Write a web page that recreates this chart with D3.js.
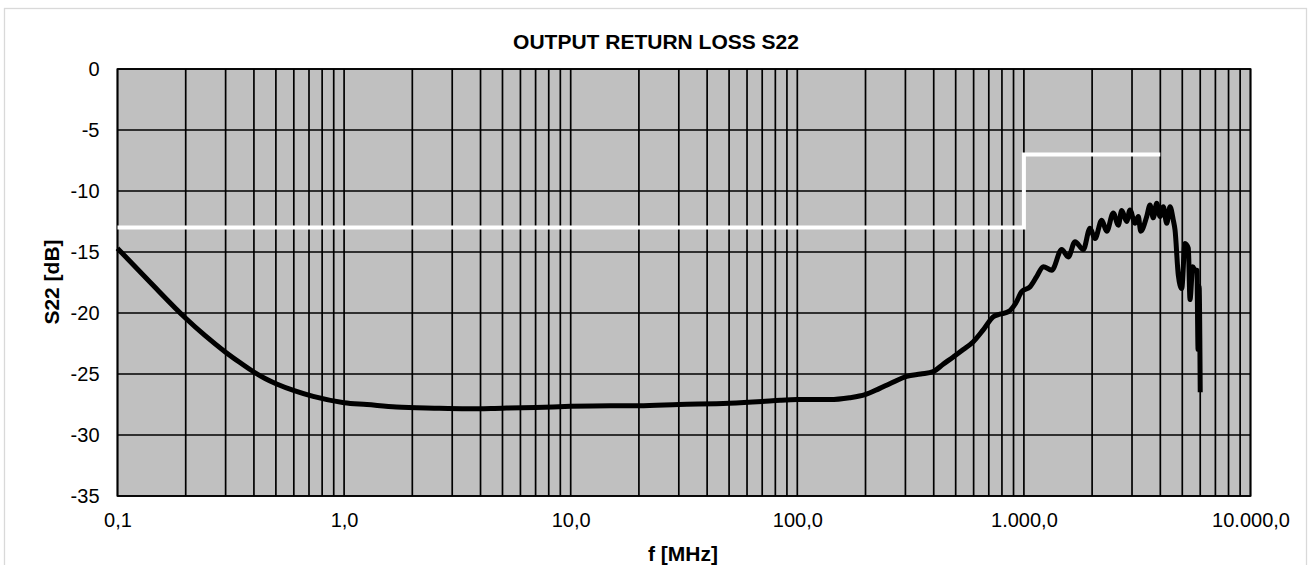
<!DOCTYPE html>
<html>
<head>
<meta charset="utf-8">
<script src="https://cdn.jsdelivr.net/npm/d3@7"></script>
<style>
  body { margin: 0; background: #fff; }
  svg { display: block; font-family: "Liberation Sans", Arial, sans-serif; }
</style>
</head>
<body>
<svg id="chart" width="1311" height="565"></svg>
<script>
// measured S22 curve, frequency in MHz
const freq = [
  0.1, 0.139, 0.2, 0.243, 0.298, 0.347, 0.4, 0.448, 0.504, 0.607, 0.73, 1.0, 1.26, 1.7, 2.5, 3.5, 5, 7,
  10, 15, 20, 30, 50, 70, 84, 100, 139, 170, 199, 230, 256, 304, 350, 398, 440,
  488, 540, 598, 660, 733, 784, 853, 920, 978, 1065, 1140, 1218, 1327, 1468, 1570,
  1681, 1829, 1958, 2060, 2205, 2320, 2480, 2610, 2702, 2842, 2939, 3093, 3198,
  3278, 3483, 3601, 3725, 3856, 3987, 4124, 4269, 4415, 4565, 4645, 4802, 4970,
  5140, 5316, 5408, 5560, 5700, 5800, 5870, 5930, 6000
];
const s22 = [
  -14.7, -17.46, -20.43, -21.84, -23.17, -24.06, -24.84, -25.37, -25.82, -26.39, -26.84, -27.35, -27.5, -27.7, -27.8, -27.85, -27.8, -27.75,
  -27.65, -27.6, -27.6, -27.5, -27.4, -27.25, -27.15, -27.1, -27.1, -26.95, -26.7, -26.2, -25.8, -25.2, -25.0, -24.8, -24.2,
  -23.6, -23.0, -22.35, -21.4, -20.3, -20.1, -19.9, -19.2, -18.25, -17.85, -17.0, -16.2, -16.5, -14.8, -15.4,
  -14.15, -14.8, -13.05, -13.9, -12.4, -13.3, -11.8, -12.8, -11.6, -12.5, -11.55, -12.65, -12.1,
  -13.3, -12.1, -11.15, -12.2, -11.0, -12.1, -11.3, -12.65, -11.3, -12.4, -13.2, -16.9, -18.0,
  -14.3, -14.7, -18.9, -16.2, -16.5, -16.5, -23.0, -17.8, -26.5
];

// limit mask
const limitFreq = [0.1, 1000, 1000, 4000];
const limitDb = [-13, -13, -7, -7];

// ticks
const xTicks = [0.1, 1, 10, 100, 1000, 10000];
const xTickLabels = ["0,1", "1,0", "10,0", "100,0", "1.000,0", "10.000,0"];
const yTicks = [0, -5, -10, -15, -20, -25, -30, -35];

const svg = d3.select("#chart");
const plotLeft = 117.5, plotRight = 1250.5, plotTop = 69, plotBottom = 496;

const x = d3.scaleLog().domain([0.1, 10000]).range([plotLeft, plotRight]);
const y = d3.scaleLinear().domain([-35, 0]).range([plotBottom, plotTop]);

// outer chart frame
svg.append("rect")
  .attr("x", 4.5).attr("y", 8.5)
  .attr("width", 1302).attr("height", 600)
  .attr("fill", "#fff")
  .attr("stroke", "#d9d9d9")
  .attr("stroke-width", 1.3);

svg.append("rect")
  .attr("x", plotLeft).attr("y", plotTop)
  .attr("width", plotRight - plotLeft).attr("height", plotBottom - plotTop)
  .attr("fill", "#c0c0c0");

// grid lines: every 1..9 of each decade
const gridX = [];
[0.1, 1, 10, 100, 1000].forEach((d) => {
  for (let k = 1; k < 10; k++) gridX.push(d * k);
});
gridX.push(10000);

svg.append("g")
  .selectAll("line")
  .data(gridX)
  .enter()
  .append("line")
  .attr("x1", (d) => x(d)).attr("x2", (d) => x(d))
  .attr("y1", plotTop).attr("y2", plotBottom)
  .attr("stroke", "#000")
  .attr("stroke-width", 1.7);

svg.append("g")
  .selectAll("line")
  .data(yTicks)
  .enter()
  .append("line")
  .attr("x1", plotLeft).attr("x2", plotRight)
  .attr("y1", (d) => y(d)).attr("y2", (d) => y(d))
  .attr("stroke", "#000")
  .attr("stroke-width", 1.7);

svg.append("rect")
  .attr("x", plotLeft).attr("y", plotTop)
  .attr("width", plotRight - plotLeft).attr("height", plotBottom - plotTop)
  .attr("fill", "none")
  .attr("stroke", "#000")
  .attr("stroke-width", 1.7);

// axes (labels only)
const xAxis = svg.append("g")
  .attr("transform", `translate(0, ${plotBottom})`)
  .call(
    d3.axisBottom(x)
      .tickValues(xTicks)
      .tickFormat((d, i) => xTickLabels[i])
      .tickSize(0)
      .tickPadding(17)
  );
xAxis.select(".domain").remove();
xAxis.selectAll("text")
  .attr("font-size", 20)
  .attr("font-family", "Liberation Sans, Arial, sans-serif")
  .attr("fill", "#000");

const yAxis = svg.append("g")
  .attr("transform", `translate(${plotLeft}, 0)`)
  .call(d3.axisLeft(y).tickValues(yTicks).tickFormat((d) => String(d)).tickSize(0).tickPadding(18));
yAxis.select(".domain").remove();
yAxis.selectAll("text")
  .attr("font-size", 20)
  .attr("font-family", "Liberation Sans, Arial, sans-serif")
  .attr("fill", "#000");

// limit line
const limitLine = d3.line()
  .x((d, i) => x(limitFreq[i]))
  .y((d, i) => y(limitDb[i]));
svg.append("path")
  .attr("d", limitLine(limitFreq))
  .attr("fill", "none")
  .attr("stroke", "#fff")
  .attr("stroke-width", 4);

// S22 curve
const curve = d3.line()
  .x((d, i) => x(freq[i]))
  .y((d, i) => y(s22[i]))
  .curve(d3.curveMonotoneX);
svg.append("path")
  .attr("d", curve(freq))
  .attr("fill", "none")
  .attr("stroke", "#000")
  .attr("stroke-width", 5)
  .attr("stroke-linejoin", "round");

// titles
svg.append("text")
  .attr("x", 656).attr("y", 49)
  .attr("text-anchor", "middle")
  .attr("font-size", 21).attr("font-weight", "bold")
  .text("OUTPUT RETURN LOSS S22");

svg.append("text")
  .attr("x", 683).attr("y", 561)
  .attr("text-anchor", "middle")
  .attr("font-size", 21).attr("font-weight", "bold")
  .text("f [MHz]");

svg.append("text")
  .attr("transform", "translate(59, 282) rotate(-90)")
  .attr("text-anchor", "middle")
  .attr("font-size", 21).attr("font-weight", "bold")
  .text("S22 [dB]");
</script>
</body>
</html>
